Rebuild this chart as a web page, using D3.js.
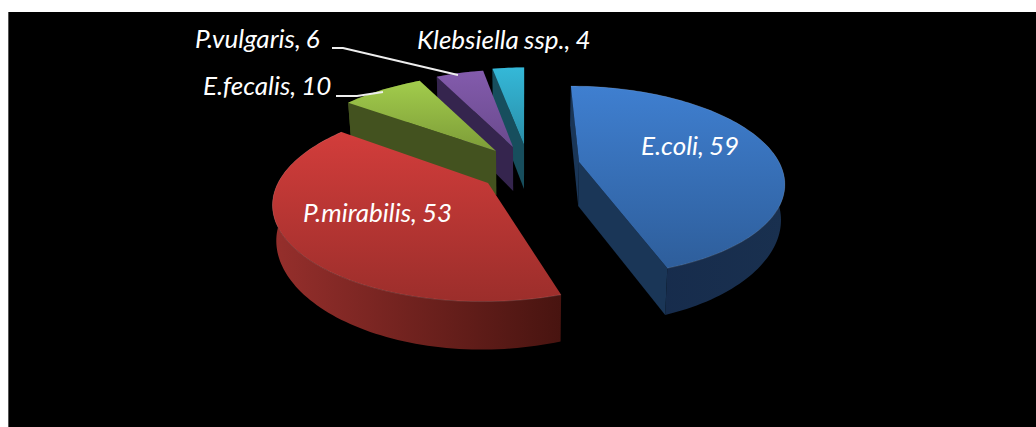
<!DOCTYPE html>
<html><head><meta charset="utf-8">
<script src="https://cdn.jsdelivr.net/npm/d3@7"></script>
<style>html,body{margin:0;padding:0;background:#fff}svg{display:block}</style>
</head><body><svg id="c" width="1036" height="427"></svg>
<script>
// Data
const categories = ["E.coli","P.mirabilis","E.fecalis","P.vulgaris","Klebsiella ssp."];
const values = [59,53,10,6,4];

// Layout (screen anchor of every exploded slice, projection, styling)
const W=1036,H=427;
const apexes = [[579,162],[488,183],[496,151],[513,147],[524,145]];
const scaleA = [1,1.05,1.03,1,1];
const scaleB = [0.98,1.02,1,1,1];
const nudge = [0,1.5,0,0,0];
const drawOrder = [4,3,2,0,1];
const topGrad = [["#3f7fd0","#2e5e9b"],["#d23d3b","#9c2e2b"],["#a2cc4c","#7d9c38"],["#835bac","#6a4a8e"],["#34b8d8","#2a8ea8"]];
const rimGrad = [["#15294a","#19304f"],["#962f2c","#481410"],["#43521f","#43521f"],["#35254e","#35254e"],["#174e5d","#174e5d"]];
const wallColor = ["#1a3657","#5a1a18","#43521f","#35254e","#174e5d"];
const labelPos = [[641,155],[303,222],[203,95],[195,48],[417,49]];
const leaders = [[[332,48],[343,48],[458,75]],[[336,96],[357,96],[383,92]]];
const A=200,B=93,K=0.2,G=0.15,XC=525,INSET=0.985;

const svg=d3.select("#c");
svg.append("rect").attr("x",8).attr("y",12).attr("width",W-8).attr("height",H-12).attr("fill","#000");
svg.append("rect").attr("x",8).attr("y",12).attr("width",1).attr("height",H-12).attr("fill","#555");
const defs=svg.append("defs");
const pieGen=d3.pie().sort(null).startAngle(0).endAngle(2*Math.PI);
const arcs=pieGen(values);
const line=d3.line();

function proj(i,th0,r){
  const th=th0+nudge[i]*Math.PI/180;
  const u=r*Math.sin(th), v=r*Math.cos(th), w=1+K*v;
  const ax=apexes[i][0], ay=apexes[i][1];
  return [ax+A*scaleA[i]*u/w-(ax-XC)*G*v, ay-B*scaleB[i]*v/w];
}
function drop(p,th,r){
  const v=r*Math.cos(th), u=r*Math.sin(th);
  return [XC+(p[0]-XC)*INSET, p[1]+44-4*v-10*u*u];
}
function grad(id,stops,x1,y1,x2,y2){
  const g=defs.append("linearGradient").attr("id",id).attr("gradientUnits","userSpaceOnUse")
    .attr("x1",x1).attr("y1",y1).attr("x2",x2).attr("y2",y2);
  g.append("stop").attr("offset",0).attr("stop-color",stops[0]);
  g.append("stop").attr("offset",1).attr("stop-color",stops[1]);
  return `url(#${id})`;
}
drawOrder.forEach(i=>{
  const a=arcs[i], N=Math.max(8,Math.round((a.endAngle-a.startAngle)*40));
  const ths=d3.range(N+1).map(k=>a.startAngle+(a.endAngle-a.startAngle)*k/N);
  const rimT=ths.map(t=>proj(i,t,1));
  const rimB=ths.map((t,k)=>drop(rimT[k],t,1));
  const apex=proj(i,0,0), apexB=drop(apex,0,0);
  const mid=proj(i,(a.startAngle+a.endAngle)/2,0.6);
  const g=svg.append("g").attr("class","slice").datum(a);
  // rim wall
  const xs=rimT.map(p=>p[0]), ys=rimT.map(p=>p[1]);
  g.append("path").attr("d",line(rimT.concat(rimB.slice().reverse()))+"Z")
    .attr("fill",grad("rim"+i,rimGrad[i],d3.min(xs),0,d3.max(xs),0));
  // radial walls with hidden-face removal
  [[rimT[0],rimB[0]],[rimT[N],rimB[N]]].forEach(([pt,pb])=>{
    const ex=pt[0]-apex[0], ey=pt[1]-apex[1];
    const crossDown=ex, crossIn=ex*(mid[1]-apex[1])-ey*(mid[0]-apex[0]);
    if(crossDown*crossIn<0)
      g.append("path").attr("d",line([apex,pt,pb,apexB])+"Z").attr("fill",wallColor[i]);
  });
  // top face
  g.append("path").attr("d",line([apex].concat(rimT))+"Z")
    .attr("fill",grad("top"+i,topGrad[i],0,d3.min(ys.concat(apex[1])),0,d3.max(ys.concat(apex[1]))));
  if(i<2) g.append("path").attr("d",line(rimT)).attr("fill","none")
    .attr("stroke","rgba(255,255,255,0.12)").attr("stroke-width",1);
});
leaders.forEach(l=>svg.append("path").attr("d",line(l)).attr("fill","none").attr("stroke","#eeeeee").attr("stroke-width",2));
svg.selectAll("text.lbl").data(categories).join("text").attr("class","lbl")
  .attr("x",(d,i)=>labelPos[i][0]).attr("y",(d,i)=>labelPos[i][1])
  .attr("fill","#fff").attr("font-family","Lato, 'Open Sans', sans-serif").attr("font-style","italic")
  .attr("font-size",26).attr("word-spacing",-1).text((d,i)=>`${d}, ${values[i]}`);
</script></body></html>
